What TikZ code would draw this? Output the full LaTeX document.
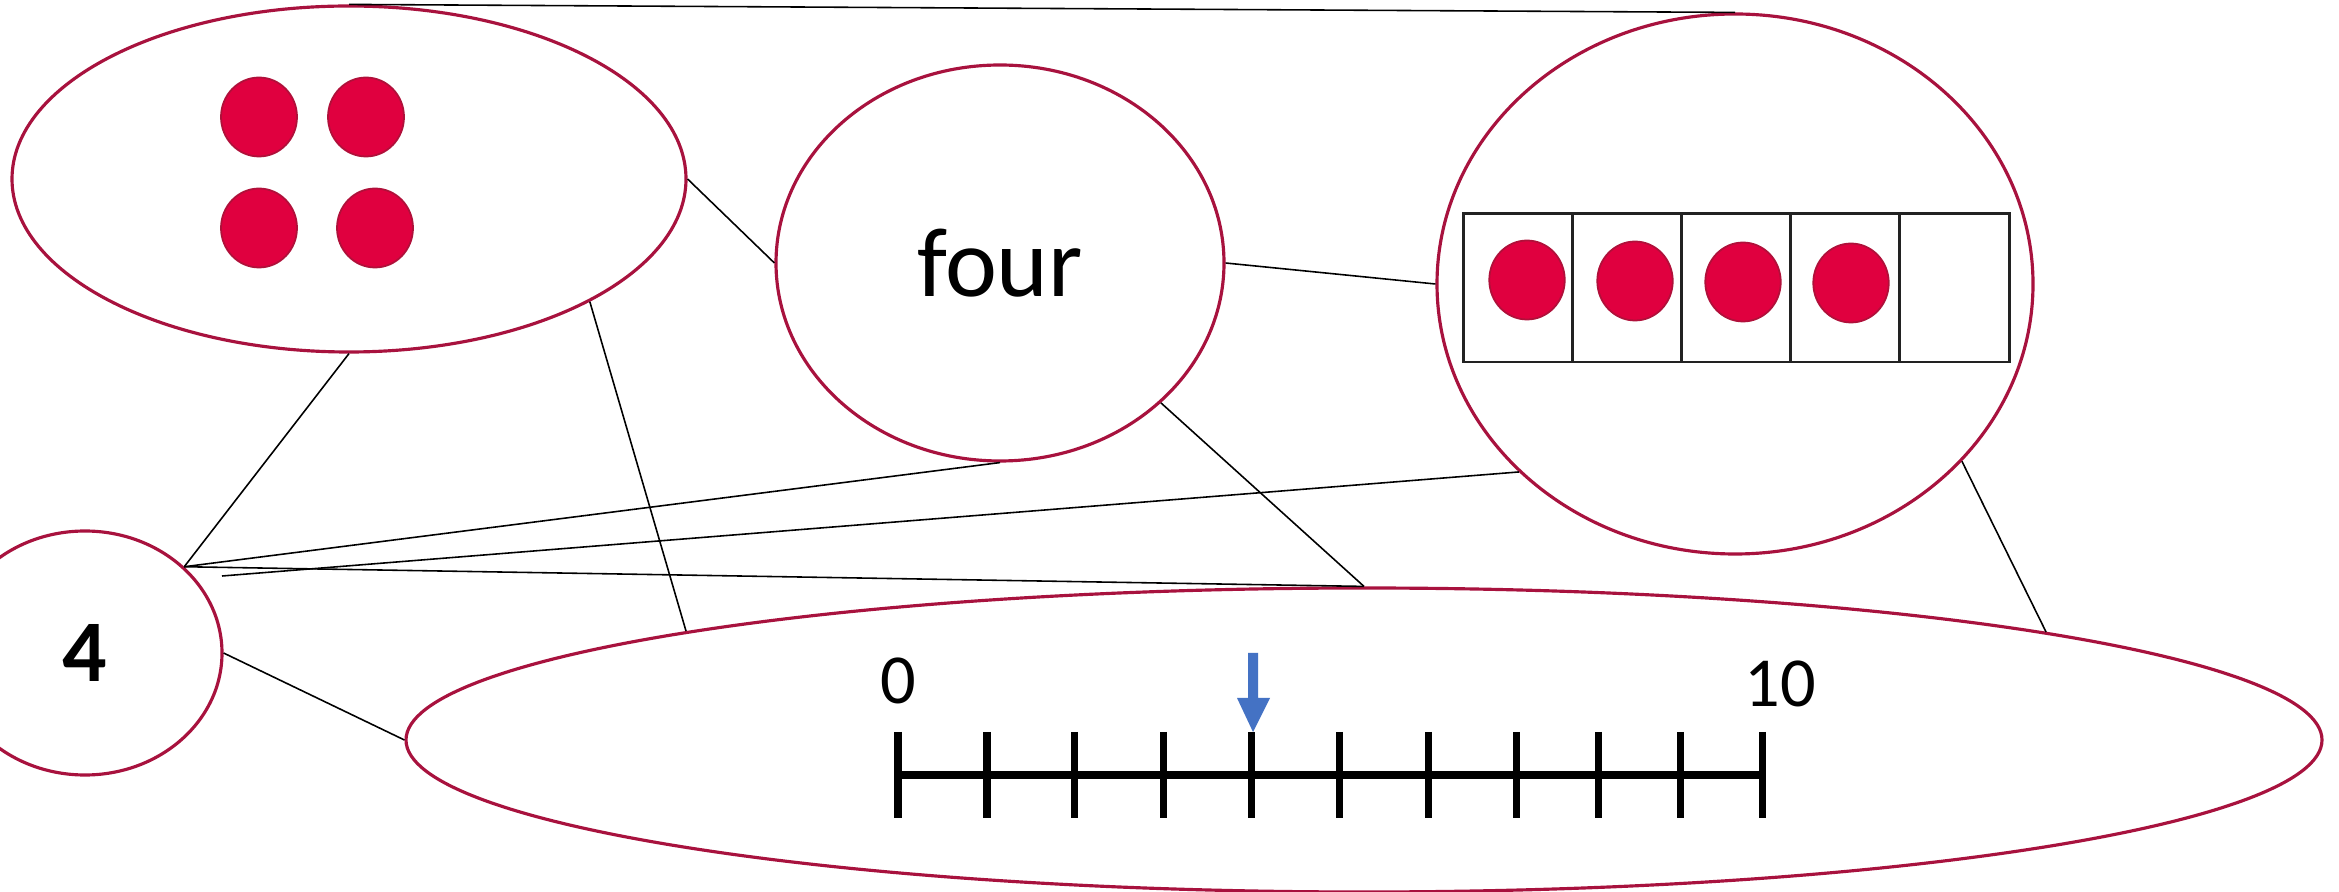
\documentclass[tikz,border=0pt]{standalone}
\usepackage{fontspec}
\setmainfont{Carlito}
\usetikzlibrary{shapes.geometric,calc}
\definecolor{RingRed}{HTML}{A8123E}
\definecolor{DotRed}{HTML}{E0003F}
\definecolor{DotEdge}{HTML}{B0103A}
\definecolor{PointerBlue}{HTML}{4472C4}
\definecolor{FrameGray}{HTML}{222222}

\begin{document}
\begin{tikzpicture}[
  x=0.1mm, y=-0.1mm,
  every node/.style={inner sep=0pt},
  ring/.style={ellipse,draw=RingRed,line width=0.9pt,fill=white},
  counter/.style={ellipse,draw=DotEdge,line width=0.5pt,fill=DotRed,minimum width=7.6mm,minimum height=7.9mm},
  link/.style={draw=black,line width=0.45pt},
  tickmark/.style={draw=black,line width=2pt}
]
  \useasboundingbox (0,0) rectangle (2339,892);

  % the five representations
  \node[ring,minimum width=67.4mm,minimum height=34.6mm] (dots) at (349,179) {};
  \node[ring,minimum width=44.8mm,minimum height=39.6mm,font=\fontsize{28}{33}\selectfont] (word) at (1000,263) {four};
  \node[ring,minimum width=59.6mm,minimum height=54mm] (frame) at (1735,284) {};
  \node[ring,minimum width=27.4mm,minimum height=24.4mm,font=\fontsize{25}{30}\selectfont\bfseries] (numeral) at (85,653) {4};
  \node[ring,minimum width=191.6mm,minimum height=30.4mm] (numline) at (1364,740) {};

  % loose counters
  \node[counter] (dotA) at (259,117) {};
  \node[counter] (dotB) at (366,117) {};
  \node[counter] (dotC) at (259,228) {};
  \node[counter] (dotD) at (375,228) {};

  % ten frame
  \draw[FrameGray,line width=0.85pt] (1463,214) rectangle (2009,362);
  \foreach \i in {1,...,4}
    \draw[FrameGray,line width=0.85pt] (1463+109.2*\i,214) -- (1463+109.2*\i,362);
  \node[counter,minimum width=7.55mm] (cellA) at (1527,280) {};
  \node[counter,minimum width=7.55mm] (cellB) at (1635,281) {};
  \node[counter,minimum width=7.55mm] (cellC) at (1743,282) {};
  \node[counter,minimum width=7.55mm] (cellD) at (1851,283) {};

  % number line
  \draw[tickmark] (898,775) -- (1762,775);
  \foreach \t in {898,987,1074,1163,1251,1339,1428,1516,1598,1680,1762}
    \draw[tickmark] (\t,732) -- (\t,818);
  \node[font=\fontsize{20}{24}\selectfont] (zero) at (898,681) {0};
  \node[font=\fontsize{20}{24}\selectfont] (ten) at (1780,684) {10};
  \fill[PointerBlue] (1248,653) -- (1258,653) -- (1258,698) -- (1270,698)
    -- (1253,732) -- (1237,698) -- (1248,698) -- cycle;

  % links
  \coordinate (loose) at (222,576);
  \draw[link] (dots.90) -- (frame.90);
  \draw[link] (dots.0) -- (word.180);
  \draw[link] (dots.270) -- (numeral.41.6);
  \draw[link] (dots.-27) -- ($(numline.center)+(-678,-109)$);
  \draw[link] (word.0) -- (frame.180);
  \draw[link] (word.270) -- (numeral.41.6);
  \draw[link] (word.-41.6) -- (numline.90);
  \draw[link] (frame.221.9) -- (loose);
  \draw[link] (numeral.41.6) -- (numline.90);
  \draw[link] (numeral.0) -- (numline.180);
  \draw[link] (frame.-38.7) -- (numline.9.1);
\end{tikzpicture}
\end{document}
